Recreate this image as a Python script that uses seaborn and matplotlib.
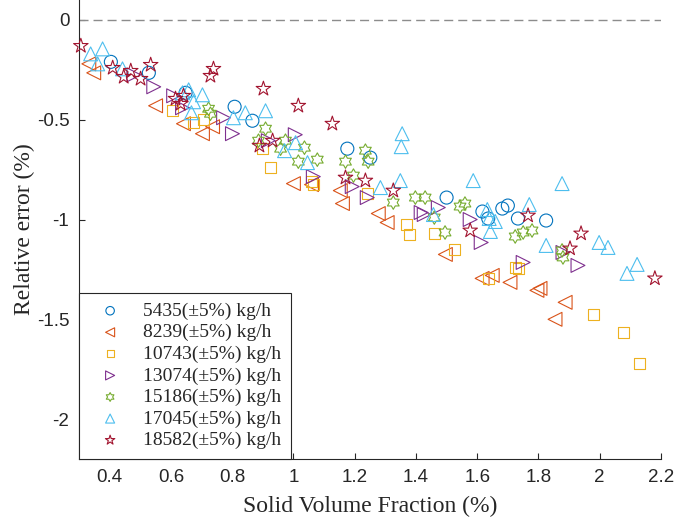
# Relative error vs solid volume fraction, one series per mass flow rate

import numpy as np
import pandas as pd
import matplotlib
matplotlib.use("Agg")
import matplotlib.pyplot as plt
from matplotlib.path import Path
import seaborn as sns

# flow rate labels
labels = ["5435(±5%) kg/h", "8239(±5%) kg/h", "10743(±5%) kg/h", "13074(±5%) kg/h",
          "15186(±5%) kg/h", "17045(±5%) kg/h", "18582(±5%) kg/h"]

# 5435 kg/h
x1 = [0.404, 0.528, 0.648, 0.808, 0.866, 1.176, 1.251, 1.50, 1.617, 1.636, 1.682, 1.70, 1.733, 1.825]
y1 = [-0.21, -0.265, -0.365, -0.435, -0.505, -0.645, -0.69, -0.89, -0.96, -0.995, -0.945, -0.93, -0.995, -1.005]

# 8239 kg/h
x2 = [0.332, 0.348, 0.550, 0.641, 0.703, 0.736, 1.000, 1.059, 1.153, 1.160, 1.277, 1.306, 1.496,
      1.616, 1.649, 1.707, 1.795, 1.805, 1.854, 1.887]
y2 = [-0.22, -0.265, -0.43, -0.52, -0.57, -0.535, -0.82, -0.825, -0.855, -0.92, -0.97, -1.015, -1.175,
      -1.295, -1.28, -1.315, -1.355, -1.345, -1.5, -1.415]

# 10743 kg/h
x3 = [0.606, 0.674, 0.707, 0.899, 0.925, 1.059, 1.065, 1.241, 1.369, 1.378, 1.460, 1.525, 1.636,
      1.724, 1.734, 1.979, 2.077, 2.129]
y3 = [-0.455, -0.515, -0.50, -0.645, -0.74, -0.81, -0.825, -0.87, -1.025, -1.075, -1.07, -1.15, -1.295,
      -1.24, -1.245, -1.475, -1.565, -1.72]

# 13074 kg/h
x4 = [0.479, 0.544, 0.609, 0.638, 0.772, 0.801, 0.918, 1.006, 1.065, 1.192, 1.241, 1.417, 1.427,
      1.473, 1.577, 1.613, 1.750, 1.880, 1.929]
y4 = [-0.275, -0.335, -0.38, -0.44, -0.49, -0.57, -0.605, -0.575, -0.785, -0.835, -0.89, -0.965, -0.975,
      -0.94, -1.0, -1.115, -1.215, -1.165, -1.23]

# 15186 kg/h
x5 = [0.723, 0.729, 0.886, 0.909, 0.958, 0.974, 1.016, 1.036, 1.078, 1.170, 1.196, 1.235, 1.244,
      1.326, 1.398, 1.430, 1.460, 1.495, 1.544, 1.560, 1.724, 1.750, 1.779, 1.877, 1.880]
y5 = [-0.445, -0.47, -0.605, -0.545, -0.645, -0.605, -0.71, -0.64, -0.70, -0.71, -0.78, -0.655, -0.71,
      -0.915, -0.89, -0.89, -0.99, -1.065, -0.935, -0.92, -1.085, -1.065, -1.055, -1.155, -1.19]

# 17045 kg/h
x6 = [0.338, 0.377, 0.361, 0.442, 0.638, 0.658, 0.703, 0.674, 0.667, 0.804, 0.843, 0.909, 0.971,
      1.007, 1.046, 1.355, 1.352, 1.284, 1.349, 1.457, 1.587, 1.633, 1.639, 1.659, 1.643, 1.770,
      1.877, 1.825, 1.998, 2.027, 2.089, 2.122]
y6 = [-0.17, -0.145, -0.22, -0.245, -0.365, -0.35, -0.375, -0.41, -0.465, -0.49, -0.465, -0.455, -0.655,
      -0.615, -0.715, -0.57, -0.635, -0.84, -0.805, -0.975, -0.805, -0.95, -0.995, -1.01, -1.06, -0.925,
      -0.82, -1.13, -1.115, -1.14, -1.27, -1.225]

# 18582 kg/h
x7 = [0.306, 0.410, 0.446, 0.469, 0.501, 0.534, 0.615, 0.632, 0.641, 0.729, 0.739, 0.902, 1.016,
      0.889, 0.932, 1.127, 1.170, 1.235, 1.326, 1.577, 1.766, 1.939, 1.903, 2.180]
y7 = [-0.13, -0.24, -0.285, -0.255, -0.295, -0.225, -0.395, -0.42, -0.38, -0.28, -0.245, -0.345, -0.43,
      -0.63, -0.605, -0.52, -0.79, -0.805, -0.855, -1.055, -0.98, -1.07, -1.145, -1.295]

xs = [x1, x2, x3, x4, x5, x6, x7]
ys = [y1, y2, y3, y4, y5, y6, y7]

colors = ["#0072BD", "#D95319", "#EDB120", "#7E2F8E", "#77AC30", "#4DBEEE", "#A2142F"]
hexagram = Path.unit_regular_star(6, 0.577)
markers = ["o", "<", "s", ">", hexagram, "^", "*"]
sizes = [88, 100, 64, 100, 95, 100, 120]

sns.set_style("ticks")
plt.rcParams["font.family"] = ["Liberation Sans", "DejaVu Sans"]

fig = plt.figure(figsize=(6.75, 5.18), dpi=100)
ax = fig.add_axes([79 / 675, 59 / 518, 582 / 675, 459 / 518])

ax.axhline(0, color="#8c8c8c", lw=1.0, ls=(0, (6.5, 3.6)), zorder=1)

for i in range(7):
    df = pd.DataFrame({"svf": xs[i], "err": ys[i]})
    sns.scatterplot(data=df, x="svf", y="err", ax=ax, marker=markers[i], s=sizes[i],
                    facecolor="none", edgecolor=colors[i], color=colors[i],
                    linewidth=0.8, label=labels[i], zorder=3, clip_on=False)

ax.set_xlim(0.3, 2.2)
ax.set_ylim(-2.2, 0.1)
ax.set_xticks([0.4, 0.6, 0.8, 1.0, 1.2, 1.4, 1.6, 1.8, 2.0, 2.2])
ax.set_xticklabels(["0.4", "0.6", "0.8", "1", "1.2", "1.4", "1.6", "1.8", "2", "2.2"])
ax.set_yticks([0, -0.5, -1, -1.5, -2])
ax.set_yticklabels(["0", "-0.5", "-1", "-1.5", "-2"])
ax.tick_params(direction="in", length=4, width=0.8, labelsize=13.5, color="#262626",
               labelcolor="#262626", pad=7)

for side in ["top", "right"]:
    ax.spines[side].set_visible(False)
for side in ["left", "bottom"]:
    ax.spines[side].set_color("#262626")
    ax.spines[side].set_linewidth(0.8)

ax.set_xlabel("Solid Volume Fraction (%)", fontsize=17, family="Liberation Serif", labelpad=7.5)
ax.set_ylabel("Relative error (%)", fontsize=17, family="Liberation Serif", labelpad=1)

leg = ax.legend(loc="lower left", borderaxespad=0, markerscale=0.65, frameon=True, fancybox=False,
                prop={"family": "Liberation Serif", "size": 14}, labelspacing=0.2,
                handletextpad=0.6, borderpad=0.5, handlelength=2.2)
leg.get_frame().set_edgecolor("#262626")
leg.get_frame().set_linewidth(0.8)
leg.get_frame().set_alpha(1)
leg.set_zorder(5)

fig.savefig("out.png", dpi=100)
